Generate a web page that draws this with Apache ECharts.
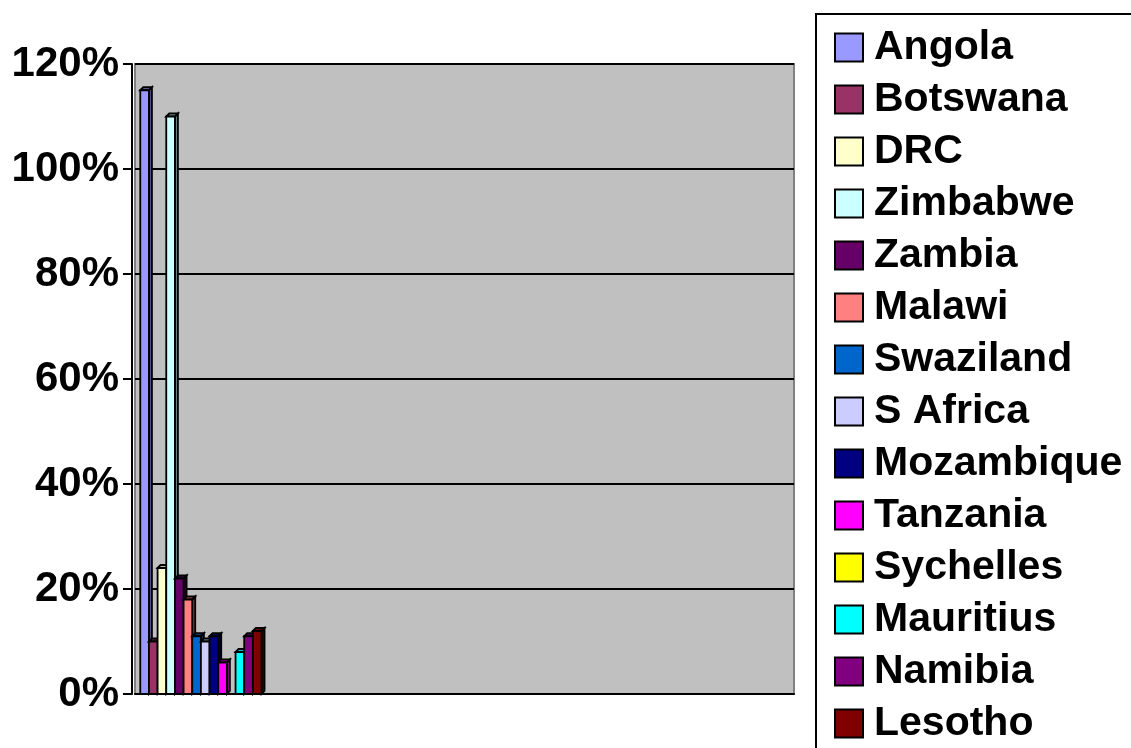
<!DOCTYPE html>
<html>
<head>
<meta charset="utf-8">
<script src="https://cdn.jsdelivr.net/npm/echarts@6/dist/echarts.min.js"></script>
<style>
  html, body { margin: 0; padding: 0; background: #fff; }
  #chart { width: 1131px; height: 748px; }
</style>
</head>
<body>
<div id="chart"></div>
<script>
// categories on the x axis (no labels shown, only the first one has data)
var categories = ['1', '2', '3', '4', '5'];
// countries = series
var countries = ['Angola', 'Botswana', 'DRC', 'Zimbabwe', 'Zambia', 'Malawi', 'Swaziland',
    'S Africa', 'Mozambique', 'Tanzania', 'Sychelles', 'Mauritius', 'Namibia', 'Lesotho'];
// value of each country in the first category
var values = [1.15, 0.10, 0.24, 1.10, 0.22, 0.18, 0.11, 0.10, 0.11, 0.06, 0.00, 0.08, 0.11, 0.12];
// y axis ticks
var yTicks = [0, 0.2, 0.4, 0.6, 0.8, 1.0, 1.2];
// old excel palette
var palette = ['#9999FF', '#993366', '#FFFFCC', '#CCFFFF', '#660066', '#FF8080', '#0066CC',
    '#CCCCFF', '#000080', '#FF00FF', '#FFFF00', '#00FFFF', '#800080', '#800000'];

var font = '"Liberation Sans", Arial, sans-serif';
var catGap = 0.08;   // part of the category left empty
var depth = 3;       // fake 3d depth in px

var chart = echarts.init(document.getElementById('chart'));

// darker shade of a #rrggbb colour
var shade = function (hex, k) {
    var n = parseInt(hex.slice(1), 16);
    var r = Math.round(((n >> 16) & 255) * k), g = Math.round(((n >> 8) & 255) * k), b = Math.round((n & 255) * k);
    return 'rgb(' + r + ',' + g + ',' + b + ')';
};

// tiny extend so the style objects stay short
var ext = function (a, b) { for (var k in b) { a[k] = b[k]; } return a; };

// column with a little 3d side and top, like the old excel charts
// (the side is hidden by the next column which is drawn later)
var makeRender = function (idx, color) {
    return function (params, api) {
        var base = api.coord([api.value(0), 0]);
        var top = api.coord([api.value(0), api.value(1)]);
        var band = api.size([1, 0])[0];
        var slot = band * (1 - catGap) / countries.length;
        var x0 = base[0] - band * (1 - catGap) / 2 + idx * slot;
        var w = slot;
        var y0 = base[1], y1 = top[1];
        var line = { stroke: '#000', lineWidth: 1.8, lineJoin: 'miter' };
        var children = [];
        if (y0 - y1 > 0.5) {
            children.push({
                type: 'polygon',
                shape: { points: [[x0 + w, y1], [x0 + w + depth, y1 - depth], [x0 + w + depth, y0 - depth], [x0 + w, y0]] },
                style: ext({ fill: shade(color, 0.5) }, line)
            });
            children.push({
                type: 'polygon',
                shape: { points: [[x0, y1], [x0 + depth, y1 - depth], [x0 + w + depth, y1 - depth], [x0 + w, y1]] },
                style: ext({ fill: shade(color, 0.75) }, line)
            });
        }
        children.push({
            type: 'rect',
            shape: { x: x0, y: y1, width: w, height: y0 - y1 },
            style: ext({ fill: color }, line)
        });
        return { type: 'group', children: children };
    };
};

var series = countries.map(function (name, i) {
    return {
        name: name,
        type: 'custom',
        renderItem: makeRender(i, palette[i]),
        encode: { x: 0, y: 1 },
        data: [[0, values[i]]],
        itemStyle: { color: palette[i] },
        z: 3
    };
});

var option = {
    animation: false,
    backgroundColor: '#fff',
    grid: {
        left: 135,
        right: 337,
        top: 64,
        bottom: 54,
        show: true,
        backgroundColor: '#C0C0C0',
        borderColor: '#808080',
        borderWidth: 2
    },
    legend: {
        orient: 'vertical',
        left: 829,
        top: 22,
        height: 760,
        itemWidth: 28,
        itemHeight: 28,
        itemGap: 11,
        icon: 'rect',
        itemStyle: { borderColor: '#000', borderWidth: 2 },
        textStyle: {
            fontFamily: font,
            fontWeight: 'bold',
            fontSize: 41,
            lineHeight: 41,
            color: '#000',
            padding: [0, 0, 0, 6]
        },
        data: countries
    },
    graphic: [{
        type: 'rect',
        shape: { x: 816, y: 14, width: 400, height: 800 },
        style: { fill: 'none', stroke: '#000', lineWidth: 2 },
        silent: true
    }],
    xAxis: {
        type: 'category',
        data: categories,
        axisLine: { lineStyle: { color: '#000', width: 2 } },
        axisTick: { length: 11, lineStyle: { color: '#000', width: 2 } },
        axisLabel: { show: false },
        splitLine: { show: false }
    },
    yAxis: {
        type: 'value',
        min: yTicks[0],
        max: yTicks[yTicks.length - 1],
        interval: 0.2,
        offset: 3,
        axisLine: { show: true, lineStyle: { color: '#000', width: 2 } },
        axisTick: { show: true, length: 9, lineStyle: { color: '#000', width: 2 } },
        axisLabel: {
            margin: 13,
            fontFamily: font,
            fontWeight: 'bold',
            fontSize: 42,
            color: '#000',
            padding: [8, 0, 0, 0],
            formatter: function (v) { return Math.round(v * 100) + '%'; }
        },
        splitLine: { lineStyle: { color: '#000', width: 2 } }
    },
    series: series
};

chart.setOption(option);
</script>
</body>
</html>
